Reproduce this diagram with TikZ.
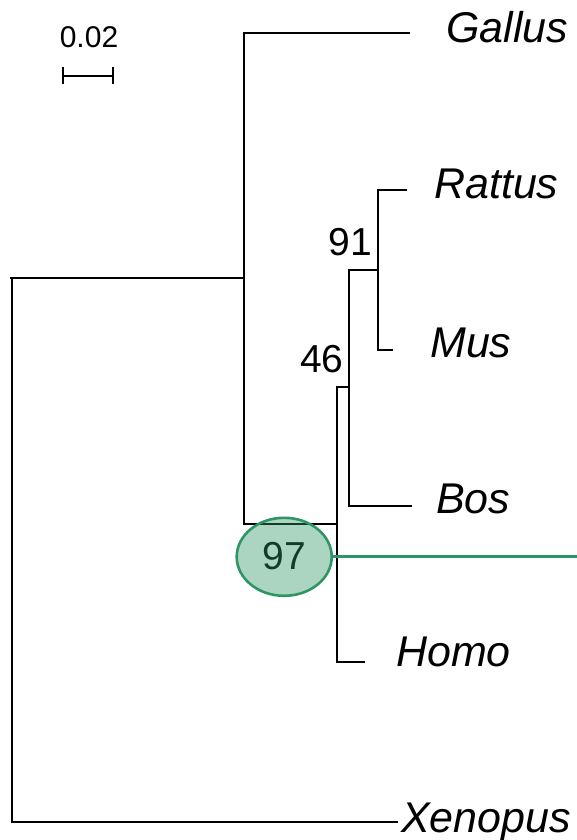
\documentclass[tikz,border=0pt]{standalone}
\usepackage{fontspec}
\setmainfont{Liberation Sans}
\usetikzlibrary{shapes.geometric}
\definecolor{hlgreen}{RGB}{46,150,100}
\tikzset{
  branch/.style={line width=1.4pt, black},
  leaf/.style={anchor=base west, inner sep=0pt, font=\fontsize{43}{50}\selectfont\itshape},
  boot/.style={anchor=base, inner sep=0pt, font=\fontsize{39}{45}\selectfont},
  hlellipse/.style={ellipse, draw=hlgreen, line width=2.6pt, fill=hlgreen, fill opacity=0.4, draw opacity=1, minimum width=95pt, minimum height=78pt, inner sep=0pt},
  hlline/.style={draw=hlgreen, line width=3.2pt}
}
\begin{document}
\begin{tikzpicture}[x=1pt,y=-1pt]
\useasboundingbox (0,0) rectangle (577,840);
% internal nodes
\coordinate (root) at (12,278);
\coordinate (nA) at (244,278);
\coordinate (nB) at (337,524);
\coordinate (n46) at (349,387);
\coordinate (n91) at (378,270);
% leaf ends
\coordinate (eGallus) at (410,33);
\coordinate (eRattus) at (407,190);
\coordinate (eMus) at (393,350);
\coordinate (eBos) at (412,506);
\coordinate (eHomo) at (365,662);
\coordinate (eXenopus) at (398,822);
% branches
\draw[branch] (10,278) -- (root);
\draw[branch] (root) |- (nA);
\draw[branch] (root) |- (eXenopus);
\draw[branch] (nA) |- (eGallus);
\draw[branch] (nA) |- (nB);
\draw[branch] (nB) |- (n46);
\draw[branch] (nB) |- (eHomo);
\draw[branch] (n46) |- (n91);
\draw[branch] (n46) |- (eBos);
\draw[branch] (n91) |- (eRattus);
\draw[branch] (n91) |- (eMus);
% leaf labels
\node[leaf] (lGallus) at (446,43) {Gallus};
\node[leaf] (lRattus) at (434,198) {Rattus};
\node[leaf] (lMus) at (430,357) {Mus};
\node[leaf] (lBos) at (436,513) {Bos};
\node[leaf] (lHomo) at (396,666) {Homo};
\node[leaf] (lXenopus) at (401,832) {Xenopus};
% bootstrap values
\node[boot] (b91) at (350.5,255) {91};
\node[boot] (b46) at (322,372.5) {46};
\node[boot] (b97) at (284.5,569) {97};
% highlight
\node[hlellipse] (hl) at (284.2,556.8) {};
\coordinate (hlend) at (577,556.8);
\draw[hlline] (hl.east) -- (hlend);
% scale bar
\coordinate (sbL) at (63,76);
\coordinate (sbR) at (113,76);
\draw[branch] (sbL) -- (sbR);
\draw[branch] ([yshift=-8.5pt]sbL) -- ([yshift=8.5pt]sbL);
\draw[branch] ([yshift=-8.5pt]sbR) -- ([yshift=8.5pt]sbR);
\node[anchor=base, inner sep=0pt, font=\fontsize{30}{36}\selectfont] (sbLabel) at (89,48) {0.02};
\end{tikzpicture}
\end{document}
